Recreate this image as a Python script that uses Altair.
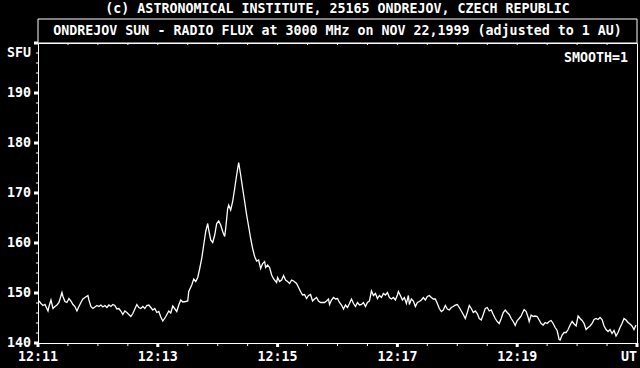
import altair as alt
import pandas as pd

# ---- data: seconds after 12:11:00 UT, and flux in SFU ----
t_sec = [1, 3, 5, 7, 10, 11, 13, 15, 17, 19, 21, 24, 25, 27, 29, 31, 33, 35, 37, 39,
         41, 43, 45, 47, 50, 51, 53, 55, 57, 59, 61, 63, 65, 67, 69, 71, 73, 75, 77, 79,
         81, 83, 85, 87, 89, 91, 93, 95, 97, 99, 101, 103, 105, 107, 109, 111, 113, 115, 117, 119,
         121, 123, 125, 128, 131, 133, 135, 139, 141, 143, 145, 148, 150,
         151, 154, 156, 158, 160, 162, 164, 166, 168, 170, 171, 173, 175, 177, 179, 181, 183, 185,
         187, 188, 190, 191, 193, 195, 197, 199, 201, 203, 205, 207, 209, 211, 213, 215, 217, 219,
         221, 223, 225, 227, 228, 230, 232, 234, 236, 239,
         240, 242, 244, 246, 248, 250, 252, 254, 256, 259, 261, 263, 265, 267, 269, 271, 273, 275,
         277, 279, 281, 283, 285, 287, 289, 291, 292, 294, 296, 298, 300, 302, 304, 306, 308, 310,
         312, 314, 316, 318, 320, 322, 324, 326, 328, 330, 332, 334, 336, 338, 340, 342, 344, 346,
         348, 350, 352, 354, 356, 358,
         360, 361, 363, 365, 367, 369, 371, 372, 374, 376, 378, 380, 382, 384, 386, 388, 390, 392,
         394, 396, 398, 400, 402, 404, 406, 408, 410, 412, 414, 416, 418, 420, 422, 424, 426, 428,
         430, 432, 434, 436, 438, 440, 442, 444, 446, 448, 450, 452, 454, 456, 458, 460, 462, 464,
         466, 468, 470, 472, 474, 476, 478,
         480, 482, 484, 485, 487, 489, 491, 492, 494, 496, 498, 500, 502, 504, 506, 508, 510, 512,
         514, 516, 518, 520, 522, 523, 525, 527, 529, 531, 533, 535, 537, 539, 541, 543, 545, 547,
         549, 551, 553, 555, 557, 559, 561, 563, 565, 567, 569, 571, 573, 575, 577, 579, 581, 583,
         585, 587, 589, 591, 593, 595, 597, 599]

flux = [148.4, 147.9, 147.5, 147.7, 146.4, 147.3, 148.6, 146.9, 147.3, 147.6, 148.1, 150.1, 149.3, 148.3, 148.1, 148.9, 148.4, 147.7, 147.3, 146.4,
        147.3, 148.1, 148.8, 149.1, 149.5, 148.6, 147.3, 146.9, 147.2, 147.5, 147.3, 147.6, 147.2, 147.5, 147.1, 147.6, 147.3, 147.7, 147.5, 146.8,
        146.9, 146.4, 145.7, 146.4, 146.1, 145.7, 145.3, 145.9, 146.8, 147.7, 147.1, 146.9, 147.3, 146.9, 147.5, 147.6, 147.1, 146.6, 146.9, 146.1,
        146.3, 145.2, 144.4, 145.3, 146.4, 146.0, 147.4, 146.3, 147.6, 148.6, 148.2, 148.3, 148.4,
        150.3, 151.6, 152.8, 152.3, 153.1, 154.9, 156.9, 159.6, 162.3, 163.9, 162.6, 160.6, 160.1, 161.6, 163.9, 164.4, 163.6, 162.3,
        161.3, 162.9, 166.9, 167.6, 166.6, 168.3, 170.9, 173.6, 176.1, 173.6, 170.9, 168.3, 165.6, 163.3, 160.9, 158.9, 157.3, 156.4,
        156.6, 154.9, 155.9, 156.3, 155.1, 155.6, 155.1, 153.6, 152.8, 152.1,
        153.1, 152.3, 152.6, 153.5, 152.6, 152.3, 151.9, 152.6, 152.4, 151.9, 151.1, 150.3, 149.6, 149.7, 148.9, 149.5, 149.7, 148.4,
        148.8, 149.1, 148.4, 148.1, 148.1, 148.1, 148.4, 148.8, 147.7, 148.6, 149.1, 148.8, 148.9, 148.1, 147.6, 146.8, 147.6, 147.1,
        147.9, 148.8, 147.9, 147.3, 148.1, 147.6, 147.7, 148.1, 147.3, 148.1, 148.4, 150.4, 149.5, 149.9, 148.9, 149.5, 149.1, 149.9,
        149.6, 150.1, 149.1, 148.8, 149.1, 148.6,
        149.6, 150.3, 149.5, 148.6, 149.1, 147.9, 149.5, 147.7, 148.8, 148.4, 147.3, 148.1, 148.3, 148.6, 149.1, 148.6, 149.3, 149.5,
        149.1, 148.8, 148.8, 147.9, 146.9, 146.3, 146.6, 147.5, 146.8, 146.6, 147.1, 147.3, 147.6, 147.7, 147.1, 146.4, 145.7, 144.9,
        146.1, 147.5, 146.9, 146.1, 146.4, 145.9, 144.9, 144.6, 145.7, 146.9, 147.1, 146.4, 146.6, 145.7, 144.9, 144.3, 143.9, 144.9,
        146.1, 146.6, 146.1, 145.7, 144.9, 144.3, 143.5,
        144.5, 144.9, 145.4, 145.9, 146.7, 146.3, 145.1, 144.3, 145.6, 145.3, 145.4, 145.3, 144.6, 143.9, 143.6, 144.1, 143.9, 144.3,
        144.5, 143.9, 143.1, 142.5, 140.7, 140.6, 141.6, 142.1, 142.1, 142.7, 143.6, 144.3, 143.8, 143.4, 145.4, 144.9, 144.5, 143.9,
        142.7, 143.1, 143.4, 143.9, 144.7, 144.9, 144.7, 145.1, 144.7, 143.4, 142.7, 142.3, 142.7, 141.9, 142.5, 141.4, 142.1, 143.1,
        143.9, 144.9, 144.6, 144.1, 143.8, 143.4, 142.7, 143.6]

x_label_pos = [0, 120, 240, 360, 480]
x_labels = ["12:11", "12:13", "12:15", "12:17", "12:19"]
x_end_pos = [600]
x_end_label = ["UT"]
x_major_ticks = [0, 120, 240, 360, 480, 600]
x_minor_ticks = [30, 60, 90, 150, 180, 210, 270, 300, 330, 390, 420, 450, 510, 540, 570]

y_label_pos = [140, 150, 160, 170, 180, 190]
y_labels = ["140", "150", "160", "170", "180", "190"]
y_unit_pos = [198]
y_unit_label = ["SFU"]
y_major_ticks = [140, 150, 160, 170, 180, 190, 200]
y_minor_ticks = [142, 144, 146, 148, 152, 154, 156, 158, 162, 164, 166, 168,
                 172, 174, 176, 178, 182, 184, 186, 188, 192, 194, 196, 198]

title_text = "(c) ASTRONOMICAL INSTITUTE, 25165 ONDREJOV, CZECH REPUBLIC"
subtitle_text = "ONDREJOV SUN - RADIO FLUX at 3000 MHz on NOV 22,1999 (adjusted to 1 AU)"
smooth_text = "SMOOTH=1"

# ---- chart ----
FONT = "DejaVu Sans Mono"
FS = 13.3
W, H = 599, 300
xs = alt.Scale(domain=[0, 600], nice=False, zero=False)
ys = alt.Scale(domain=[140, 200], nice=False, zero=False)

one = pd.DataFrame({"k": [0]})

box = alt.Chart(one).mark_rect(fill="black", stroke="white", strokeWidth=1).encode(
    x=alt.value(0), x2=alt.value(W), y=alt.value(-24), y2=alt.value(0))

line = alt.Chart(pd.DataFrame({"t": t_sec, "v": flux})).mark_line(
    color="white", strokeWidth=1.3).encode(
    x=alt.X("t:Q", scale=xs, axis=None),
    y=alt.Y("v:Q", scale=ys, axis=None))

xmaj = alt.Chart(pd.DataFrame({"t": x_major_ticks})).mark_rule(color="white", strokeWidth=3).encode(
    x=alt.X("t:Q", scale=xs, axis=None), y=alt.value(H), y2=alt.value(H + 4))
xmin = alt.Chart(pd.DataFrame({"t": x_minor_ticks})).mark_rule(color="white", strokeWidth=1).encode(
    x=alt.X("t:Q", scale=xs, axis=None), y=alt.value(H), y2=alt.value(H + 3))
xtop = alt.Chart(pd.DataFrame({"t": x_minor_ticks + x_major_ticks[1:-1]})).mark_rule(color="white", strokeWidth=1).encode(
    x=alt.X("t:Q", scale=xs, axis=None), y=alt.value(0), y2=alt.value(2))
ymaj = alt.Chart(pd.DataFrame({"v": y_major_ticks})).mark_rule(color="white", strokeWidth=3).encode(
    y=alt.Y("v:Q", scale=ys, axis=None), x=alt.value(-4), x2=alt.value(0))
ymin = alt.Chart(pd.DataFrame({"v": y_minor_ticks})).mark_rule(color="white", strokeWidth=1).encode(
    y=alt.Y("v:Q", scale=ys, axis=None), x=alt.value(-2), x2=alt.value(0))

txt = dict(color="white", font=FONT, fontSize=FS, fontWeight="bold", baseline="middle")

xlab = alt.Chart(pd.DataFrame({"t": x_label_pos, "s": x_labels})).mark_text(align="center", **txt).encode(
    x=alt.X("t:Q", scale=xs, axis=None), y=alt.value(H + 14), text="s:N")
xend = alt.Chart(pd.DataFrame({"t": x_end_pos, "s": x_end_label})).mark_text(align="right", **txt).encode(
    x=alt.X("t:Q", scale=xs, axis=None), y=alt.value(H + 14), text="s:N")
ylab = alt.Chart(pd.DataFrame({"v": y_label_pos + y_unit_pos, "s": y_labels + y_unit_label})).mark_text(align="right", **txt).encode(
    y=alt.Y("v:Q", scale=ys, axis=None), x=alt.value(-7), text="s:N")

title = alt.Chart(pd.DataFrame({"s": [title_text]})).mark_text(align="center", **txt).encode(
    x=alt.value(W / 2), y=alt.value(-34), text="s:N")
subtitle = alt.Chart(pd.DataFrame({"s": [subtitle_text]})).mark_text(align="center", **txt).encode(
    x=alt.value(W / 2), y=alt.value(-12), text="s:N")
smooth = alt.Chart(pd.DataFrame({"s": [smooth_text]})).mark_text(align="right", **txt).encode(
    x=alt.value(W - 9), y=alt.value(15), text="s:N")

chart = alt.layer(
    box, line, xmaj, xmin, xtop, ymaj, ymin, xlab, xend, ylab, title, subtitle, smooth
).properties(
    width=W, height=H,
    autosize=alt.AutoSizeParams(type="none"),
    padding={"left": 38, "top": 43, "right": 3, "bottom": 25},
    background="black",
).configure_view(stroke="white", strokeWidth=1)

chart.save("out.html", embed_options={"renderer": "svg", "actions": False})
